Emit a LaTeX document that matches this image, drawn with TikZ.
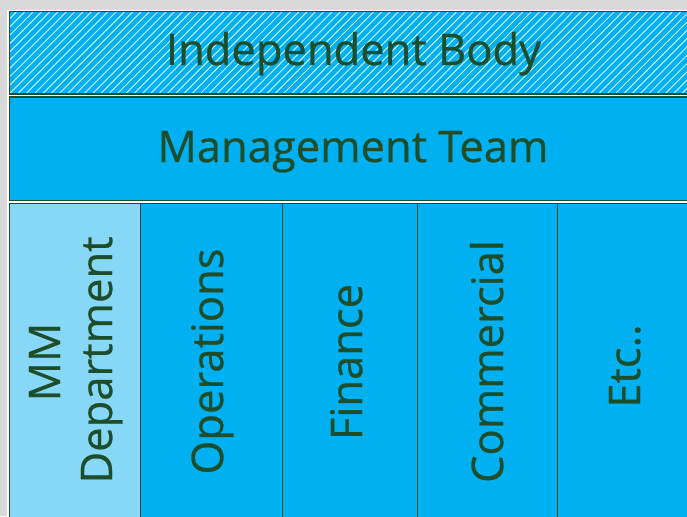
\documentclass[tikz,border=0pt]{standalone}
\usepackage{fontspec}
\setmainfont{Open Sans}
\newfontfamily\lblfont[FakeBold=0.6]{Open Sans}
\definecolor{bggray}{HTML}{D9D9D9}
\definecolor{cyanfill}{HTML}{00B0F0}
\definecolor{lightfill}{HTML}{87D7F7}
\definecolor{darkgreen}{HTML}{1E4D2B}
\definecolor{hatch}{HTML}{C8EEFC}
\tikzset{
  blockbox/.style={draw=darkgreen, line width=1.1pt, fill=cyanfill, anchor=north west, inner sep=0pt},
  lbl/.style={text=darkgreen, font=\lblfont\fontsize{43.5}{52}\selectfont, inner sep=0pt},
  vlbl/.style={lbl, rotate=90, anchor=base, align=center},
}
\begin{document}
\begin{tikzpicture}[x=1pt,y=-1pt]
\useasboundingbox (0,0) rectangle (687,516);
\fill[bggray] (0,0) rectangle (687,516);
\fill[white] (7,10) rectangle (700,530);
% top hatched box
\node[blockbox, minimum width=700pt, minimum height=82.5pt,
  path picture={
    \foreach \i in {-15,...,95}{
      \draw[hatch, line width=1pt] ([xshift=\i*8.3pt]path picture bounding box.south west) -- ++(90pt,90pt);
    }
  }] (ib) at (8.5,11) {};
\node[lbl, anchor=base] (ibt) at (353.5,65) {Independent Body};
% management
\node[blockbox, minimum width=700pt, minimum height=103pt] (mt) at (8.5,96.5) {};
\node[lbl, anchor=base] (mtt) at (353,162) {Management Team};
% columns
\node[blockbox, fill=lightfill, minimum width=131.5pt, minimum height=330pt] (c1) at (8.5,202.5) {};
\node[blockbox, minimum width=142pt, minimum height=330pt] (c2) at (140,202.5) {};
\node[blockbox, minimum width=134.7pt, minimum height=330pt] (c3) at (282,202.5) {};
\node[blockbox, minimum width=140pt, minimum height=330pt] (c4) at (416.7,202.5) {};
\node[blockbox, minimum width=150pt, minimum height=330pt] (c5) at (556.7,202.5) {};
\node[vlbl] (t1a) at (60,362) {MM};
\node[vlbl] (t1b) at (112,360) {Department};
\node[vlbl] (t2) at (223,361.5) {Operations};
\node[vlbl] (t3) at (362,362) {Finance};
\node[vlbl] (t4) at (503,361.5) {Commercial};
\node[vlbl] (t5) at (640,366) {Etc..};
\end{tikzpicture}
\end{document}
